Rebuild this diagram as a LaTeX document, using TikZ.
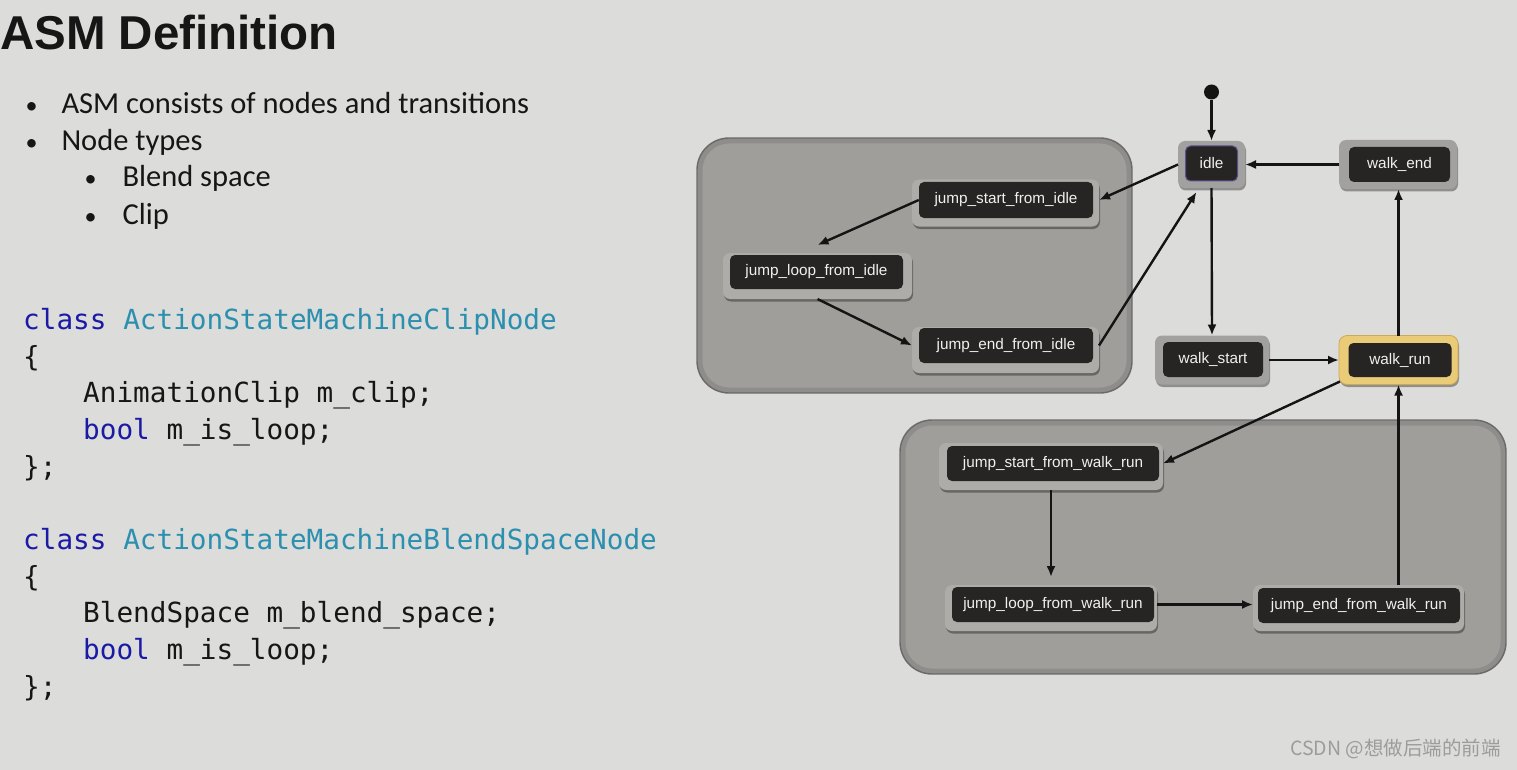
\documentclass[tikz,border=0pt]{standalone}
\usepackage{fontspec}
\setmainfont{Liberation Sans}
\newfontfamily\calib{Carlito}
\newfontfamily\monof{DejaVu Sans Mono}
\newfontfamily\cjkf{Noto Sans CJK SC}
\usetikzlibrary{arrows.meta,shadows,calc}
\definecolor{bg}{HTML}{DCDCDA}
\definecolor{grpfill}{HTML}{A09E9B}
\definecolor{grpline}{HTML}{6E6C69}
\definecolor{frameA}{HTML}{A3A1A0}
\definecolor{frameB}{HTML}{AEACA9}
\definecolor{frameY}{HTML}{E9CB78}
\definecolor{frameYl}{HTML}{CDA955}
\definecolor{darkbox}{HTML}{262523}
\definecolor{idleline}{HTML}{5E5090}
\definecolor{kwblue}{HTML}{1A1AA6}
\definecolor{clsteal}{HTML}{2B8FAF}
\definecolor{txt}{HTML}{161616}
\definecolor{csdn}{HTML}{9C9C9C}
\tikzset{
  shad/.style={drop shadow={shadow xshift=1pt,shadow yshift=-2.5pt,opacity=.35,fill=black}},
  outerA/.style={fill=frameA, rounded corners=7pt, inner sep=0pt, outer sep=0pt, shad},
  outerB/.style={fill=frameB, rounded corners=7pt, inner sep=0pt, outer sep=0pt, shad},
  outerY/.style={fill=frameY, draw=frameYl, line width=0.8pt, rounded corners=8pt, inner sep=0pt, outer sep=0pt, shad},
  inbox/.style={fill=darkbox, rounded corners=5pt, inner sep=0pt, text=white!94!black,
    font=\fontsize{15.3}{17}\selectfont},
  grp/.style={fill=grpfill, draw=grpline, line width=1.4pt, rounded corners=32pt},
  grpglow/.style={draw=black, opacity=.10, line width=5pt, rounded corners=29pt},
  arr/.style={draw=black!92, line width=2.4pt, -{Latex[length=11pt,width=9pt]}},
  bul/.style={anchor=base west, text=txt, font=\calib\fontsize{30.5}{34}\selectfont},
  code/.style={anchor=base west, text=txt, font=\monof\fontsize{27.7}{30}\selectfont},
}
\begin{document}
\begin{tikzpicture}[x=1pt,y=-1pt]
\useasboundingbox (0,0) rectangle (1517,770);
\fill[bg] (0,0) rectangle (1517,770);

% ---- left text ----
\node[anchor=base west, inner sep=0, text=txt, font=\bfseries\fontsize{47.5}{50}\selectfont] (title) at (0,50) {ASM Definition};

\node[bul] (b1d) at (22,114) {\fontsize{24}{30}\selectfont •};
\node[bul] (b1) at (58,114) {ASM consists of nodes and transitions};
\node[bul] (b2d) at (22,151) {\fontsize{24}{30}\selectfont •};
\node[bul] (b2) at (58,151) {Node types};
\node[bul] (b3d) at (81,187) {\fontsize{24}{30}\selectfont •};
\node[bul] (b3) at (119,187) {Blend space};
\node[bul] (b4d) at (81,224) {\fontsize{24}{30}\selectfont •};
\node[bul] (b4) at (119,224) {Clip};

\node[code, inner sep=0] (c1) at (23,329) {\textcolor{kwblue}{class} \textcolor{clsteal}{ActionStateMachineClipNode}};
\node[code, inner sep=0] (c2) at (23,366) {\{};
\node[code, inner sep=0] (c3) at (83,402) {AnimationClip m\_clip;};
\node[code, inner sep=0] (c4) at (83,439) {\textcolor{kwblue}{bool} m\_is\_loop;};
\node[code, inner sep=0] (c5) at (23,476) {\};};

\node[code, inner sep=0] (d1) at (23,549) {\textcolor{kwblue}{class} \textcolor{clsteal}{ActionStateMachineBlendSpaceNode}};
\node[code, inner sep=0] (d2) at (23,586) {\{};
\node[code, inner sep=0] (d3) at (83,622) {BlendSpace m\_blend\_space;};
\node[code, inner sep=0] (d4) at (83,659) {\textcolor{kwblue}{bool} m\_is\_loop;};
\node[code, inner sep=0] (d5) at (23,696) {\};};

% ---- groups ----
\path[grp] (697,138) rectangle (1132,393);
\path[grpglow] (700,141) rectangle (1129,390);
\path[grp] (900,420) rectangle (1506,674);
\path[grpglow] (903,423) rectangle (1503,671);

% ---- state nodes ----
\node[outerA, minimum width=67pt, minimum height=47pt] (idle) at (1211.5,164.5) {};
\node[inbox, draw=idleline, line width=1pt, minimum width=52pt, minimum height=35pt] (idle-in) at (1211.5,163.5) {idle};

\node[outerA, minimum width=118pt, minimum height=49pt] (we) at (1398,164.5) {};
\node[inbox, minimum width=101pt, minimum height=35pt] (we-in) at (1399.5,164.5) {walk\_end};

\node[outerA, minimum width=114pt, minimum height=49pt] (ws) at (1212,360) {};
\node[inbox, minimum width=100pt, minimum height=35pt] (ws-in) at (1213,359.5) {walk\_start};

\node[outerY, minimum width=119pt, minimum height=49pt] (wr) at (1398.5,360) {};
\node[inbox, minimum width=103pt, minimum height=34pt] (wr-in) at (1400,360) {walk\_run};

\node[outerB, minimum width=187pt, minimum height=47pt] (jsI) at (1005.5,203) {};
\node[inbox, minimum width=174pt, minimum height=36pt] (jsI-in) at (1006,200) {jump\_start\_from\_idle};

\node[outerB, minimum width=189pt, minimum height=46pt] (jlI) at (817.5,276) {};
\node[inbox, minimum width=173pt, minimum height=34pt] (jlI-in) at (816.5,272) {jump\_loop\_from\_idle};

\node[outerB, minimum width=187pt, minimum height=46pt] (jeI) at (1005.5,350) {};
\node[inbox, minimum width=174pt, minimum height=35pt] (jeI-in) at (1006,345.5) {jump\_end\_from\_idle};

\node[outerB, minimum width=224pt, minimum height=47pt] (jsW) at (1051,466.5) {};
\node[inbox, minimum width=212pt, minimum height=35pt] (jsW-in) at (1053,463.5) {jump\_start\_from\_walk\_run};

\node[outerB, minimum width=212pt, minimum height=46pt] (jlW) at (1051,608) {};
\node[inbox, minimum width=202pt, minimum height=35pt] (jlW-in) at (1053,604.5) {jump\_loop\_from\_walk\_run};

\node[outerB, minimum width=211pt, minimum height=46pt] (jeW) at (1358.5,608) {};
\node[inbox, minimum width=202pt, minimum height=35pt] (jeW-in) at (1359,605.5) {jump\_end\_from\_walk\_run};

% initial state
\node[circle, fill=black!92, inner sep=0pt, minimum size=15pt] (init) at (1211.5,92) {};

% ---- transitions ----
\draw[arr] (init) -- (idle);
\draw[arr] (we) -- (idle);
\draw[arr] (idle.west) -- (jsI.east |- jsI-in.center);
\draw[arr] (jsI-in.west) -- ($(jlI.north)+(0,-8)$);
\draw[arr] (jlI.south) -- (jeI.west |- jeI-in.center);
\draw[arr] (jeI.east |- jeI-in.center) -- ($(idle.south)+(-15,4)$);
\draw[arr] (idle.south) -- (ws.north);
\draw[arr] (ws) -- (wr);
\draw[arr] (wr.north) -- (wr.north |- we.south);
\draw[arr] ($(wr.south west)+(1,-3)$) -- (jsW.east |- jsW-in.center);
\draw[arr] (jsW.south) -- ($(jlW.north)+(0,-8)$);
\draw[arr] (jlW.east |- jlW-in.center) -- (jeW.west |- jlW-in.center);
\draw[arr] (jeW.north -| wr.south) -- (wr.south);

% watermark caption
\node[anchor=east, inner sep=0, text=csdn, font=\cjkf\fontsize{19.5}{21}\selectfont] (csdn) at (1501,749) {CSDN @想做后端的前端};
\end{tikzpicture}
\end{document}
